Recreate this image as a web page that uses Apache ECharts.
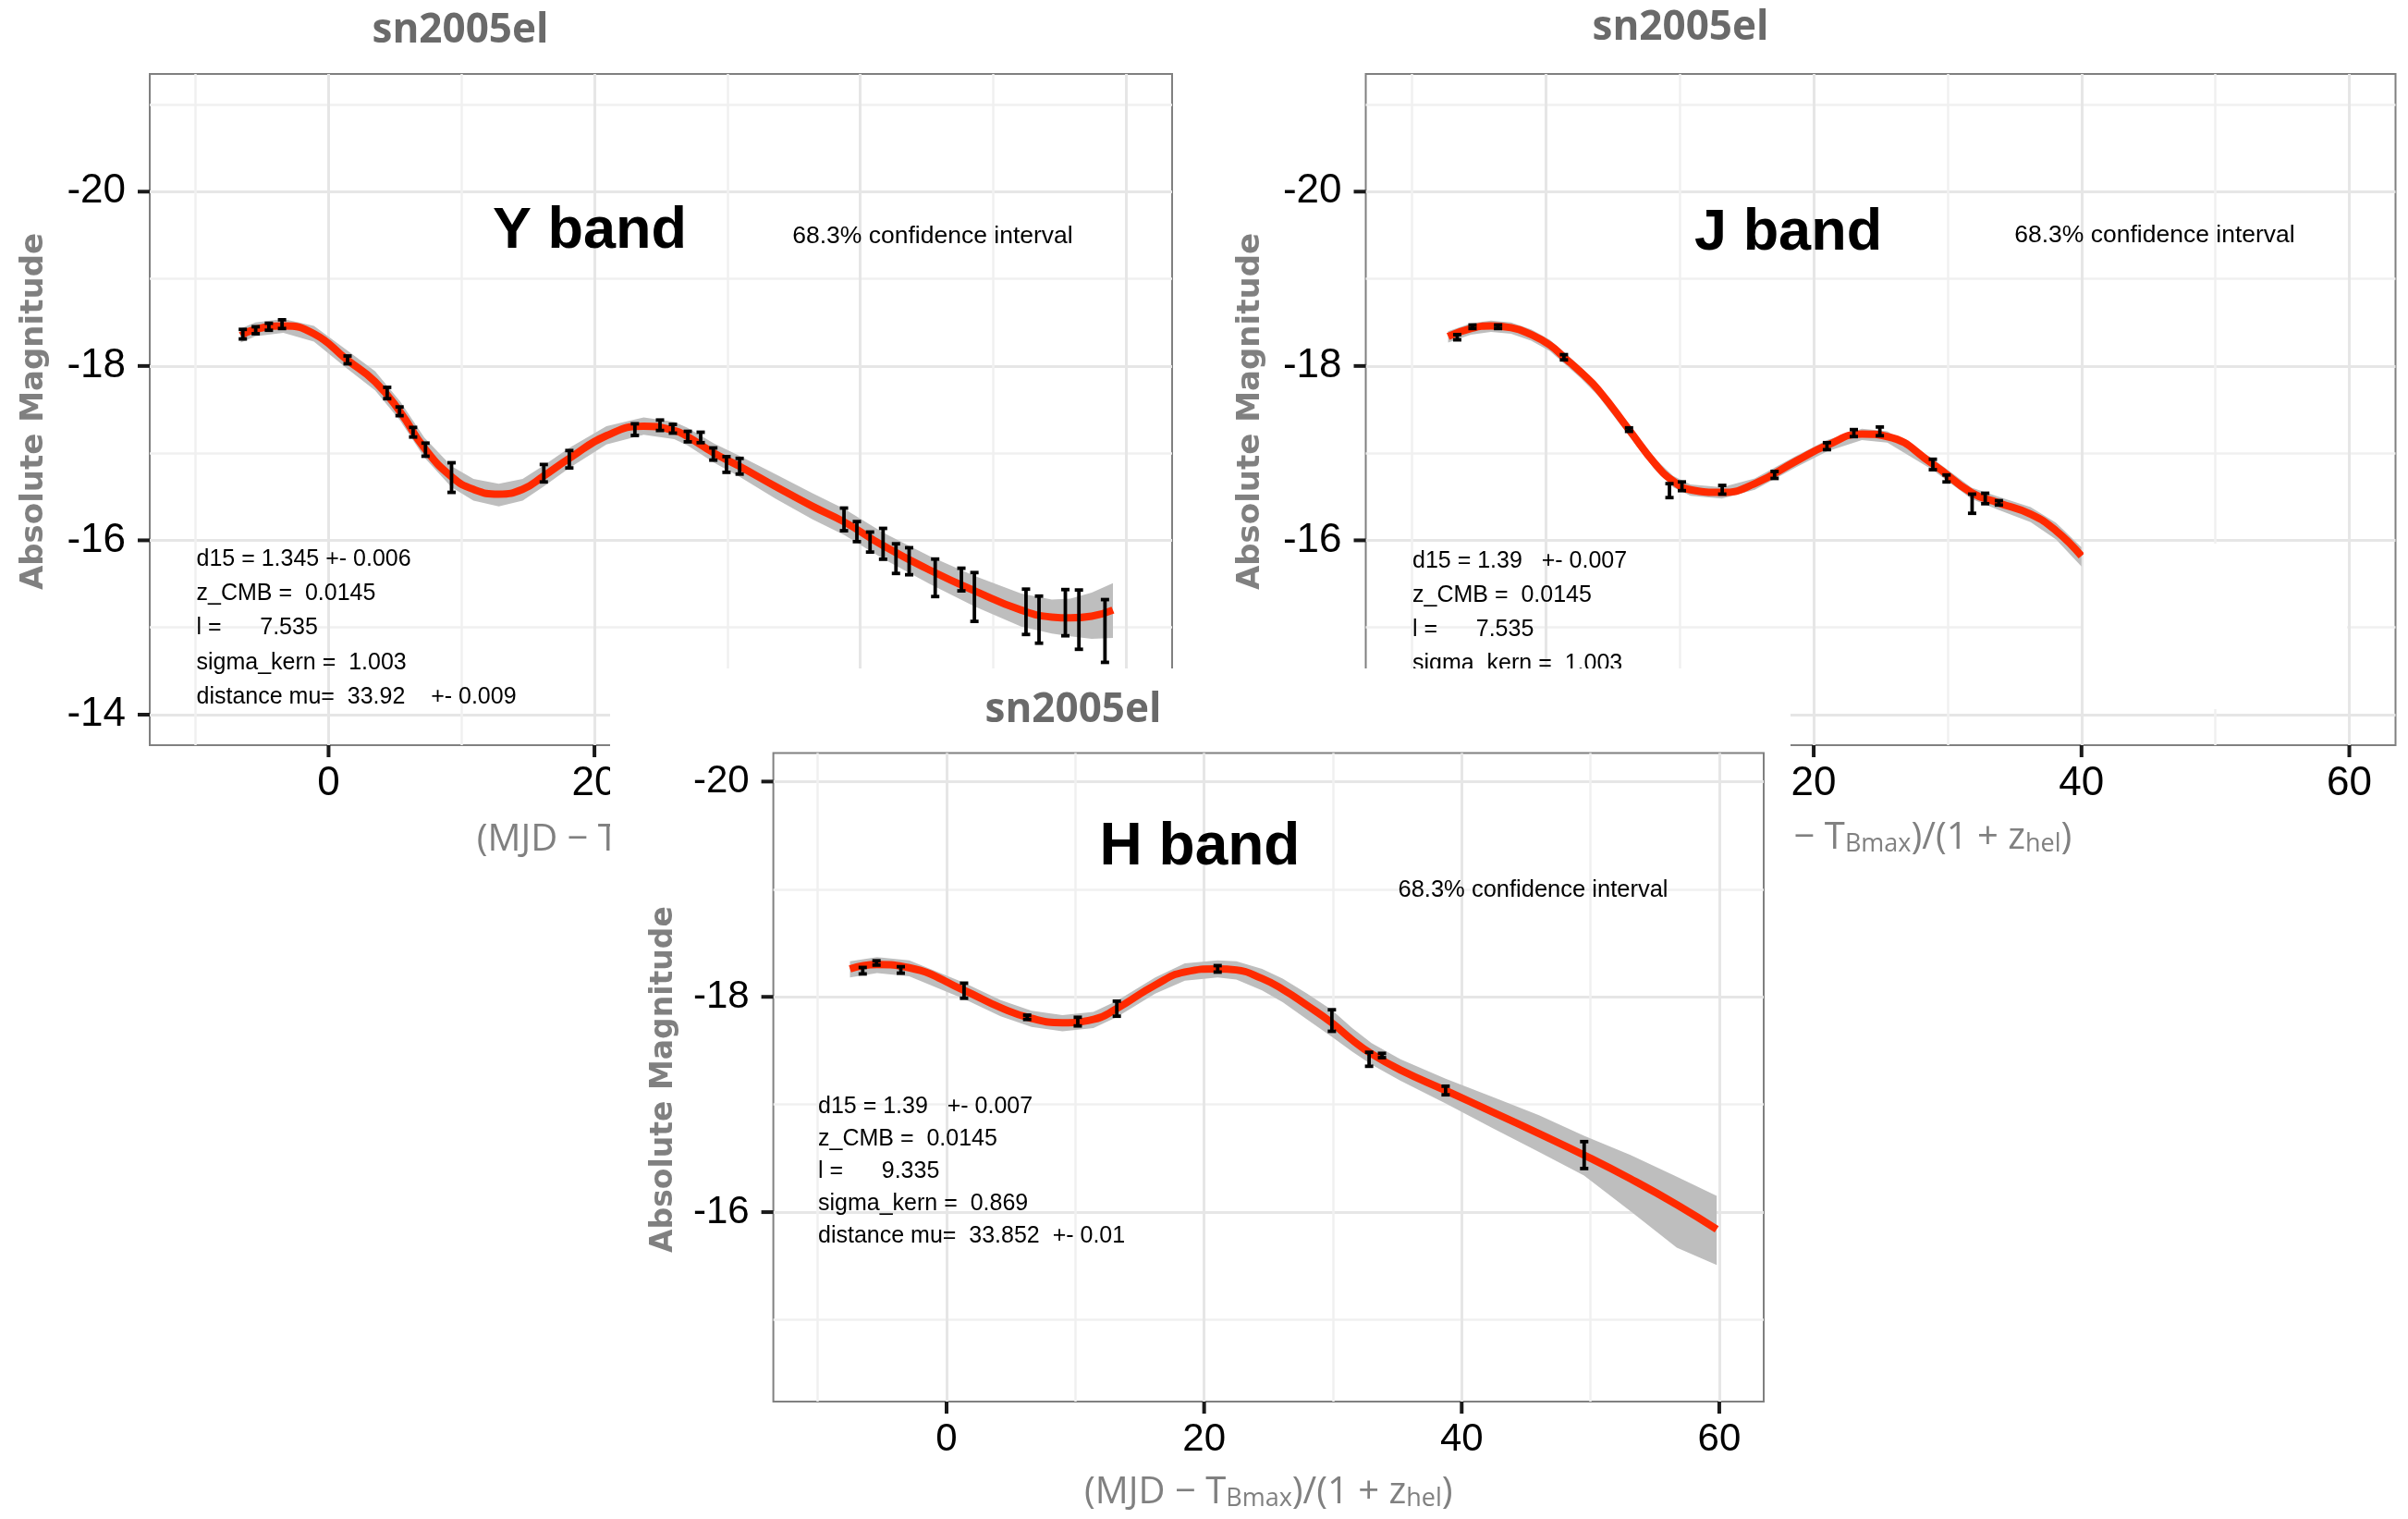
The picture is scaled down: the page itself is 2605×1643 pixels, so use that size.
<!DOCTYPE html>
<html>
<head>
<meta charset="utf-8">
<script src="https://cdn.jsdelivr.net/npm/echarts@6/dist/echarts.min.js"></script>
<style>
  html, body { margin: 0; padding: 0; background: #ffffff; }
  #chart { width: 2605px; height: 1643px; }
</style>
</head>
<body>
<div id="chart"></div>
<script>
// ---- axis ticks ----------------------------------------------------------
const phaseMajor = [0, 20, 40, 60];
const phaseMinor = [-10, 10, 30, 50];
const magMajorYJ = [-20, -18, -16, -14];
const magMinorYJ = [-21, -19, -17, -15];
const magMajorH = [-20, -18, -16];
const magMinorH = [-19, -17, -15];

// ---- Y band: photometry (rest-frame phase, absolute mag, 1-sigma error) ---
const yObsPhase = [-6.45, -5.48, -4.49, -3.5, 1.43, 4.41, 5.34, 6.36, 7.29, 9.25, 16.19, 18.11, 23.04, 24.93, 25.9, 27.02, 27.99, 28.94, 29.93, 30.92, 38.77, 39.74, 40.73, 41.71, 42.68, 43.67, 45.63, 47.6, 48.58, 52.46, 53.44, 55.42, 56.44, 58.4];
const yObsMag = [-18.365, -18.41, -18.45, -18.48, -18.07, -17.69, -17.48, -17.24, -17.04, -16.72, -16.77, -16.93, -17.27, -17.32, -17.28, -17.19, -17.18, -16.99, -16.87, -16.85, -16.24, -16.10, -15.98, -15.96, -15.79, -15.76, -15.57, -15.55, -15.35, -15.18, -15.09, -15.17, -15.09, -14.96];
const yObsErr = [0.055, 0.04, 0.04, 0.05, 0.045, 0.065, 0.05, 0.055, 0.075, 0.17, 0.1, 0.1, 0.067, 0.06, 0.05, 0.06, 0.06, 0.07, 0.09, 0.09, 0.13, 0.115, 0.115, 0.177, 0.17, 0.155, 0.215, 0.13, 0.28, 0.26, 0.27, 0.265, 0.34, 0.36];
// Y band: GP fit and 68.3% interval (offsets above / below the fit)
const yFitPhase = [-6.6, -5.5, -3.4, -1.1, 1.4, 3.5, 5.4, 7.2, 9.25, 10.9, 12.8, 14.6, 16.2, 18.1, 20.9, 23.7, 26, 27, 29, 30.9, 33.6, 36.4, 38.8, 41.7, 45.2, 48.6, 52.1, 54.4, 55.8, 57.4, 59];
const yFitMag = [-18.35, -18.42, -18.46, -18.37, -18.07, -17.82, -17.47, -17.06, -16.73, -16.585, -16.53, -16.585, -16.74, -16.94, -17.20, -17.31, -17.26, -17.19, -17.0, -16.85, -16.62, -16.39, -16.21, -15.94, -15.66, -15.42, -15.20, -15.12, -15.11, -15.13, -15.20];
const yFitUp = [0.08, 0.08, 0.08, 0.09, 0.11, 0.12, 0.12, 0.12, 0.12, 0.12, 0.12, 0.12, 0.12, 0.12, 0.11, 0.1, 0.1, 0.1, 0.11, 0.12, 0.14, 0.15, 0.15, 0.15, 0.16, 0.17, 0.19, 0.2, 0.22, 0.27, 0.31];
const yFitDown = [0.08, 0.08, 0.08, 0.09, 0.1, 0.1, 0.1, 0.11, 0.12, 0.13, 0.14, 0.13, 0.12, 0.11, 0.1, 0.1, 0.1, 0.1, 0.11, 0.12, 0.14, 0.15, 0.15, 0.15, 0.16, 0.18, 0.19, 0.19, 0.21, 0.26, 0.32];

// ---- J band ---------------------------------------------------------------
const jObsPhase = [-6.62, -5.48, -3.57, 1.35, 6.21, 9.23, 10.16, 13.17, 17.08, 20.99, 23.0, 24.94, 28.9, 29.92, 31.83, 32.81, 33.83];
const jObsMag = [-18.33, -18.45, -18.45, -18.10, -17.27, -16.57, -16.62, -16.58, -16.75, -17.08, -17.23, -17.25, -16.87, -16.71, -16.42, -16.48, -16.43];
const jObsErr = [0.03, 0.02, 0.02, 0.03, 0.02, 0.08, 0.05, 0.05, 0.04, 0.04, 0.04, 0.05, 0.06, 0.04, 0.11, 0.06, 0.025];
const jFitPhase = [-7.3, -5.6, -4.1, -2.6, -1.1, 0.3, 1.35, 2.6, 3.9, 6.2, 8.2, 9.5, 10.8, 13.15, 15.6, 18.7, 21, 23.6, 25.5, 28.85, 31.8, 33.8, 36.2, 38.1, 40];
const jFitMag = [-18.34, -18.43, -18.46, -18.44, -18.36, -18.24, -18.10, -17.93, -17.73, -17.27, -16.87, -16.68, -16.58, -16.55, -16.65, -16.91, -17.09, -17.22, -17.19, -16.88, -16.545, -16.43, -16.30, -16.11, -15.82];
const jFitUp = [0.06, 0.06, 0.06, 0.06, 0.06, 0.06, 0.06, 0.06, 0.06, 0.06, 0.06, 0.06, 0.06, 0.06, 0.06, 0.06, 0.06, 0.06, 0.06, 0.06, 0.06, 0.07, 0.08, 0.09, 0.1];
const jFitDown = [0.07, 0.07, 0.07, 0.07, 0.07, 0.07, 0.07, 0.07, 0.07, 0.07, 0.07, 0.07, 0.07, 0.07, 0.07, 0.07, 0.07, 0.07, 0.07, 0.07, 0.07, 0.08, 0.09, 0.1, 0.12];

// ---- H band ---------------------------------------------------------------
const hObsPhase = [-6.51, -5.44, -3.55, 1.36, 6.26, 10.19, 13.22, 21.05, 29.92, 32.81, 33.81, 38.75, 49.51];
const hObsMag = [-18.243, -18.315, -18.25, -18.057, -17.81, -17.77, -17.89, -18.26, -17.78, -17.42, -17.455, -17.13, -16.53];
const hObsErr = [0.03, 0.02, 0.03, 0.07, 0.02, 0.04, 0.07, 0.03, 0.1, 0.065, 0.02, 0.04, 0.125];
const hFitPhase = [-7.5, -5.4, -2.9, 1.36, 4.2, 6.6, 9.0, 11.4, 13.2, 16.2, 18.5, 21.05, 22.5, 24.5, 26.1, 28, 29.9, 31.5, 33, 35.25, 38.75, 42.4, 46, 49.5, 53.1, 56.7, 59.8];
const hFitMag = [-18.26, -18.30, -18.27, -18.06, -17.90, -17.80, -17.76, -17.79, -17.89, -18.11, -18.23, -18.26, -18.25, -18.17, -18.07, -17.92, -17.76, -17.60, -17.47, -17.32, -17.13, -16.93, -16.73, -16.53, -16.31, -16.07, -15.84];
const hFitUp = [0.07, 0.07, 0.07, 0.07, 0.07, 0.07, 0.07, 0.07, 0.07, 0.07, 0.08, 0.08, 0.08, 0.09, 0.1, 0.11, 0.12, 0.11, 0.1, 0.1, 0.11, 0.14, 0.17, 0.18, 0.22, 0.26, 0.31];
const hFitDown = [0.08, 0.08, 0.08, 0.08, 0.08, 0.08, 0.08, 0.08, 0.08, 0.08, 0.08, 0.08, 0.09, 0.11, 0.12, 0.13, 0.13, 0.11, 0.1, 0.1, 0.12, 0.15, 0.17, 0.19, 0.3, 0.4, 0.33];

// ---- fit summaries --------------------------------------------------------
const yInfo = ['d15 = 1.345 +- 0.006', 'z_CMB =  0.0145', 'l =      7.535', 'sigma_kern =  1.003', 'distance mu=  33.92    +- 0.009'];
const jInfo = ['d15 = 1.39   +- 0.007', 'z_CMB =  0.0145', 'l =      7.535', 'sigma_kern =  1.003'];
const hInfo = ['d15 = 1.39   +- 0.007', 'z_CMB =  0.0145', 'l =      9.335', 'sigma_kern =  0.869', 'distance mu=  33.852  +- 0.01'];

// ---- styling / layout -----------------------------------------------------
const RED = '#ff2a00';
const BAND = '#bebebe';
const GRID_MAJOR = '#e6e6e6';
const GRID_MINOR = '#f0f0f0';
const TICK = '#1a1a1a';
const TICK_LEN = 13, TICK_W = 4;
const PHASE_MIN = -13.45, PHASE_MAX = 63.45;
const SANS = '"Liberation Sans", Arial, sans-serif';

const panels = [
  { key: 'Y', rect: { left: 162, top: 80, width: 1106, height: 726 }, mag: [-21.35, -13.65],
    major: magMajorYJ, minor: magMinorYJ, zlevel: 0, tickFont: 44,
    obs: [yObsPhase, yObsMag, yObsErr], fit: [yFitPhase, yFitMag, yFitUp, yFitDown] },
  { key: 'J', rect: { left: 1477.5, top: 80, width: 1114, height: 726 }, mag: [-21.35, -13.65],
    major: magMajorYJ, minor: magMinorYJ, zlevel: 0, tickFont: 44,
    obs: [jObsPhase, jObsMag, jObsErr], fit: [jFitPhase, jFitMag, jFitUp, jFitDown] },
  { key: 'H', rect: { left: 836.6, top: 814.5, width: 1071.4, height: 701.5 }, mag: [-20.265, -14.24],
    major: magMajorH, minor: magMinorH, zlevel: 1, tickFont: 42,
    obs: [hObsPhase, hObsMag, hObsErr], fit: [hFitPhase, hFitMag, hFitUp, hFitDown] }
];

// vertical error bar with end caps
function errorBarItem(params, api) {
  const x = api.value(0), m = api.value(1), e = api.value(2);
  const a = api.coord([x, m - e]);
  const b = api.coord([x, m + e]);
  const hw = 4.5;
  const st = { stroke: '#000000', lineWidth: 3.8 };
  return {
    type: 'group',
    children: [
      { type: 'line', shape: { x1: a[0], y1: a[1], x2: b[0], y2: b[1] }, style: st },
      { type: 'line', shape: { x1: a[0] - hw, y1: a[1], x2: a[0] + hw, y2: a[1] }, style: st },
      { type: 'line', shape: { x1: b[0] - hw, y1: b[1], x2: b[0] + hw, y2: b[1] }, style: st }
    ]
  };
}

// interval ribbon: one closed polygon through every [phase, bright, faint] row
function ribbonItem(params, api) {
  if (params.dataIndex !== 0) return null;
  const n = params.dataInsideLength;
  const top = [], bottom = [];
  for (let k = 0; k < n; k++) {
    const x = api.value(0, k);
    top.push(api.coord([x, api.value(1, k)]));
    bottom.push(api.coord([x, api.value(2, k)]));
  }
  return {
    type: 'polygon',
    shape: { points: top.concat(bottom.reverse()) },
    style: { fill: BAND, stroke: null }
  };
}

const grid = [], xAxis = [], yAxis = [], series = [];
panels.forEach((p, i) => {
  const zl = p.zlevel;
  grid.push(Object.assign({}, p.rect, {
    show: true, backgroundColor: '#ffffff', borderColor: '#808080', borderWidth: 2,
    containLabel: false, zlevel: zl, z: 1
  }));
  // major x axis: labels and major grid lines
  xAxis.push({
    type: 'value', gridIndex: i, min: PHASE_MIN, max: PHASE_MAX, position: 'bottom',
    zlevel: zl, z: 2,
    axisLine: { show: false, onZero: false },
    axisTick: { show: false, customValues: phaseMajor },
    axisLabel: { show: true, customValues: phaseMajor, margin: 20, color: '#000000',
      fontSize: p.tickFont, fontFamily: SANS, lineHeight: p.tickFont },
    splitLine: { show: true, lineStyle: { color: GRID_MAJOR, width: 3 } }
  });
  // minor x grid lines
  xAxis.push({
    type: 'value', gridIndex: i, min: PHASE_MIN, max: PHASE_MAX, position: 'top',
    zlevel: zl, z: 2,
    axisLine: { show: false, onZero: false },
    axisTick: { show: false, customValues: phaseMinor },
    axisLabel: { show: false },
    splitLine: { show: true, lineStyle: { color: GRID_MINOR, width: 2.5 } }
  });
  yAxis.push({
    type: 'value', gridIndex: i, min: p.mag[0], max: p.mag[1], inverse: true, position: 'left',
    zlevel: zl, z: 2,
    axisLine: { show: false, onZero: false },
    axisTick: { show: false, customValues: p.major },
    axisLabel: { show: true, customValues: p.major, margin: 26, color: '#000000',
      fontSize: p.tickFont, fontFamily: SANS },
    splitLine: { show: true, lineStyle: { color: GRID_MAJOR, width: 3 } }
  });
  yAxis.push({
    type: 'value', gridIndex: i, min: p.mag[0], max: p.mag[1], inverse: true, position: 'right',
    zlevel: zl, z: 2,
    axisLine: { show: false, onZero: false },
    axisTick: { show: false, customValues: p.minor },
    axisLabel: { show: false },
    splitLine: { show: true, lineStyle: { color: GRID_MINOR, width: 2.5 } }
  });

  const [fp, fm, fu, fd] = p.fit;
  const ax = { xAxisIndex: 2 * i, yAxisIndex: 2 * i, zlevel: zl };

  series.push(Object.assign({
    name: p.key + ' 68.3% interval', type: 'custom', renderItem: ribbonItem, silent: true, z: 3,
    encode: { x: 0, y: [1, 2] },
    data: fp.map((x, k) => [x, +(fm[k] - fu[k]).toFixed(4), +(fm[k] + fd[k]).toFixed(4)])
  }, ax));
  series.push(Object.assign({
    name: p.key + ' fit', type: 'line', data: fp.map((x, k) => [x, fm[k]]),
    smooth: true, symbol: 'none', silent: true, z: 4,
    lineStyle: { color: RED, width: 8, cap: 'butt' }
  }, ax));
  const [op, om, oe] = p.obs;
  series.push(Object.assign({
    name: p.key + ' data', type: 'custom', renderItem: errorBarItem, silent: true, z: 5,
    encode: { x: 0, y: 1 },
    data: op.map((x, k) => [x, om[k], oe[k]])
  }, ax));
});

// ---- text and overlay graphics -----------------------------------------
function txt(x, y, text, st, zl, extra) {
  return Object.assign({
    type: 'text', x: x, y: y, zlevel: zl, z: 20, silent: true,
    style: Object.assign({ text: text, fill: '#000000', align: 'center', verticalAlign: 'middle' }, st)
  }, extra || {});
}
const titleSt = { fontFamily: '"Open Sans", "DejaVu Sans", sans-serif', fontWeight: 'bold', fontSize: 44, fill: '#6a6a6a' };
const yTitleSt = { fontFamily: '"DejaVu Sans", Verdana, sans-serif', fontWeight: 'bold', fontSize: 34, fill: '#808080' };
const bandSt = { fontFamily: SANS, fontWeight: 'bold', fontSize: 63 };
const ciSt = { fontFamily: SANS, fontSize: 26.5 };
const infoSt = (lh) => ({ fontFamily: SANS, fontSize: 25, lineHeight: lh, align: 'left', verticalAlign: 'top' });
const xTitleSt = {
  text: '{m|(MJD \u2212 T}{s|Bmax}{m|)/(1 + z}{s|hel}{m|)}',
  align: 'center', verticalAlign: 'top',
  rich: {
    m: { fontFamily: '"Open Sans", sans-serif', fontSize: 40, lineHeight: 40, verticalAlign: 'top', fill: '#808080' },
    s: { fontFamily: '"Open Sans", sans-serif', fontSize: 27, lineHeight: 27, verticalAlign: 'bottom', padding: [27, 0, 0, 0], fill: '#808080' }
  }
};
const rot = { rotation: Math.PI / 2 };

const graphics = [
  // Y panel
  txt(498, 33, 'sn2005el', titleSt, 0),
  txt(37.5, 445, 'Absolute Magnitude', yTitleSt, 0, rot),
  txt(638, 251, 'Y band', bandSt, 0),
  txt(1009, 256, '68.3% confidence interval', ciSt, 0),
  txt(212.5, 586.3, yInfo.join('\n'), infoSt(37.3), 0),
  { type: 'text', x: 715, y: 889, zlevel: 0, z: 20, silent: true, style: xTitleSt },
  // J panel
  txt(1818, 30, 'sn2005el', titleSt, 0),
  txt(1353, 445, 'Absolute Magnitude', yTitleSt, 0, rot),
  txt(1934.6, 253, 'J band', bandSt, 0),
  txt(2331, 255, '68.3% confidence interval', ciSt, 0),
  txt(1528, 588, jInfo.join('\n'), infoSt(37.3), 0),
  { type: 'text', x: 2042, y: 887, zlevel: 0, z: 20, silent: true, style: xTitleSt },
  // blank patch over the J panel beyond the fitted range
  { type: 'rect', shape: { x: 2254, y: 588, width: 285, height: 179 }, style: { fill: '#ffffff' }, zlevel: 0, z: 50, silent: true },
  // H panel sheet, laid on top of the other two
  { type: 'rect', shape: { x: 660, y: 723, width: 1277, height: 920 }, style: { fill: '#ffffff' }, zlevel: 1, z: 0, silent: true },
  txt(1161, 768, 'sn2005el', titleSt, 1),
  txt(718, 1167.6, 'Absolute Magnitude', Object.assign({}, yTitleSt, { fontSize: 33 }), 1, rot),
  txt(1298, 917.5, 'H band', Object.assign({}, bandSt, { fontSize: 64 }), 1),
  txt(1658.5, 963.3, '68.3% confidence interval', Object.assign({}, ciSt, { fontSize: 25.5 }), 1),
  txt(885, 1179.2, hInfo.join('\n'), infoSt(35), 1),
  { type: 'text', x: 1372.3, y: 1595, zlevel: 1, z: 20, silent: true, style: xTitleSt }
];

// outward tick marks at the labelled values; positions follow each panel's
// linear axis mapping (phase left→right, magnitude inverted top→bottom)
function edgePixel(p, x, y) {
  const R = p.rect;
  return [R.left + (x - PHASE_MIN) / (PHASE_MAX - PHASE_MIN) * R.width,
          R.top + (y - p.mag[0]) / (p.mag[1] - p.mag[0]) * R.height];
}
panels.forEach(p => {
  phaseMajor.forEach(v => {
    const c = edgePixel(p, v, p.mag[1]);
    graphics.push({ type: 'rect', zlevel: p.zlevel, z: 30, silent: true,
      shape: { x: c[0] - TICK_W / 2, y: c[1], width: TICK_W, height: TICK_LEN }, style: { fill: TICK } });
  });
  p.major.forEach(v => {
    const c = edgePixel(p, PHASE_MIN, v);
    graphics.push({ type: 'rect', zlevel: p.zlevel, z: 30, silent: true,
      shape: { x: c[0] - TICK_LEN, y: c[1] - TICK_W / 2, width: TICK_LEN, height: TICK_W }, style: { fill: TICK } });
  });
});

const chart = echarts.init(document.getElementById('chart'), null, { renderer: 'canvas', width: 2605, height: 1643 });
chart.setOption({
  animation: false,
  backgroundColor: '#ffffff',
  textStyle: { fontFamily: SANS },
  grid: grid,
  xAxis: xAxis,
  yAxis: yAxis,
  series: series,
  graphic: { elements: graphics }
});
</script>
</body>
</html>
